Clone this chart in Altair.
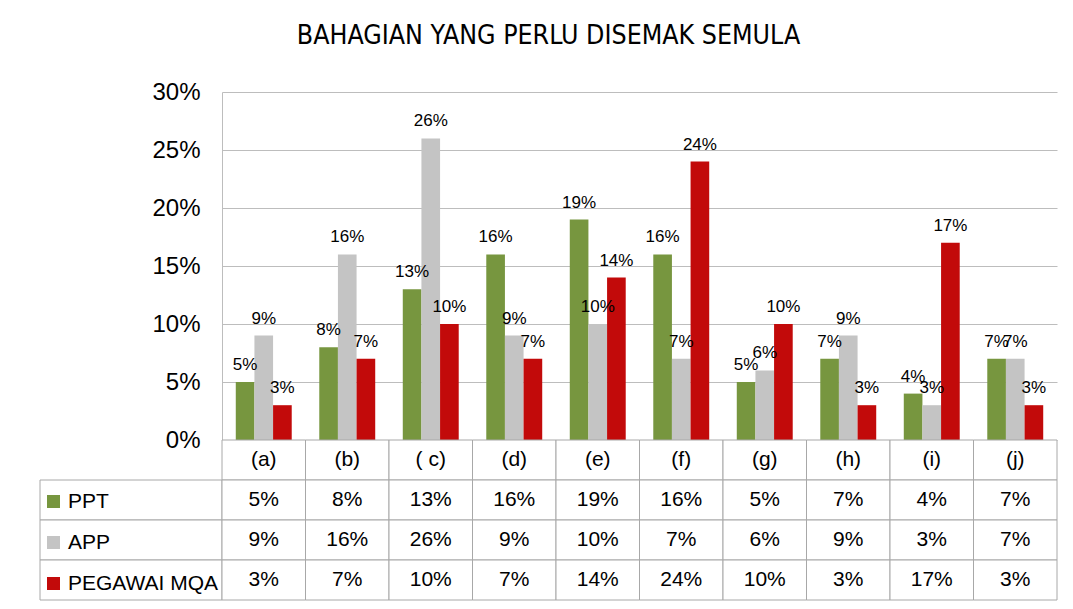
import altair as alt
import pandas as pd

# ---- data ----
categories = ["(a)", "(b)", "( c)", "(d)", "(e)", "(f)", "(g)", "(h)", "(i)", "(j)"]
series = ["PPT", "APP", "PEGAWAI MQA"]
ppt = [5, 8, 13, 16, 19, 16, 5, 7, 4, 7]
app = [9, 16, 26, 9, 10, 7, 6, 9, 3, 7]
mqa = [3, 7, 10, 7, 14, 24, 10, 3, 17, 3]
y_ticks = [0, 5, 10, 15, 20, 25, 30]
colors = ["#77963F", "#C4C4C4", "#C20A0A"]
table_rows = ["cat"] + series

FONT = "Liberation Sans"
TITLE_FONT = "DejaVu Sans Condensed, Roboto, sans-serif"
LINE = "#A8A8A8"
GRID = "#BDBDBD"

# long table for bars
recs = []
for s, vals in zip(series, [ppt, app, mqa]):
    for c, v in zip(categories, vals):
        recs.append({"cat": c, "series": s, "value": v / 100})
df = pd.DataFrame(recs)

# data table cells
cells = []
for c in categories:
    cells.append({"cat": c, "row": "cat", "label": c})
for s, vals in zip(series, [ppt, app, mqa]):
    for c, v in zip(categories, vals):
        cells.append({"cat": c, "row": s, "label": f"{v}%"})
tab_df = pd.DataFrame(cells)
hdr_df = pd.DataFrame({"row": series})

# ---- main bar chart ----
x_main = alt.X("cat:N", sort=categories,
               scale=alt.Scale(domain=categories, paddingInner=0.33, paddingOuter=0.165),
               axis=None)
xoff = alt.XOffset("series:N", sort=series,
                   scale=alt.Scale(domain=series, paddingInner=0, paddingOuter=0))
y_main = alt.Y("value:Q",
               scale=alt.Scale(domain=[0, 0.30], nice=False, zero=True),
               axis=alt.Axis(values=[t / 100 for t in y_ticks], format=".0%", title=None,
                             grid=True, gridColor=GRID, gridWidth=1,
                             domain=True, domainColor=GRID, ticks=False,
                             labelFontSize=24, labelFont=FONT, labelColor="black",
                             labelPadding=22))
color = alt.Color("series:N", sort=series,
                  scale=alt.Scale(domain=series, range=colors),
                  legend=alt.Legend(title=None, orient="none", legendX=3, legendY=399,
                                    direction="vertical", symbolType="square",
                                    symbolSize=169, symbolStrokeWidth=0,
                                    labelFontSize=21, labelFont=FONT, labelColor="black",
                                    labelLimit=400, labelOffset=4, rowPadding=19,
                                    padding=0, symbolOpacity=1))

bars = alt.Chart(df).mark_bar(opacity=1).encode(
    x=x_main, xOffset=xoff, y=y_main, color=color)
bar_labels = alt.Chart(df).mark_text(
    baseline="alphabetic", dy=-12, fontSize=17, font=FONT, color="black").encode(
    x=x_main, xOffset=xoff, y=alt.Y("value:Q"),
    text=alt.Text("value:Q", format=".0%"))
main = alt.layer(bars, bar_labels).properties(width=835, height=348)

# ---- spacer (area left of the plot, holds y-axis labels) ----
spacer = alt.Chart(pd.DataFrame({"v": [0]})).mark_point(opacity=0).properties(
    width=182, height=348)

# ---- data table ----
y_tab = alt.Y("row:N", sort=table_rows,
              scale=alt.Scale(domain=table_rows, paddingInner=0, paddingOuter=0),
              axis=None)
header = alt.Chart(hdr_df).mark_rect(fill="white", stroke=LINE, strokeWidth=1).encode(
    y=y_tab).properties(width=182, height=160)

x_tab = alt.X("cat:N", sort=categories,
              scale=alt.Scale(domain=categories, paddingInner=0, paddingOuter=0),
              axis=None)
tab_cells = alt.Chart(tab_df).mark_rect(fill="white", stroke=LINE, strokeWidth=1).encode(
    x=x_tab, y=y_tab)
tab_text = alt.Chart(tab_df).mark_text(fontSize=21, font=FONT, color="black").encode(
    x=x_tab, y=y_tab, text="label:N")
table = alt.layer(tab_cells, tab_text).properties(width=835, height=160)

chart = alt.concat(
    spacer, main, header, table, columns=2, spacing=0, bounds="flush",
    title=alt.TitleParams("BAHAGIAN YANG PERLU DISEMAK SEMULA", font=TITLE_FONT,
                          fontSize=26.5, fontWeight="normal", color="black",
                          anchor="middle", offset=31),
).properties(
    padding={"left": 31, "top": 14, "right": 5, "bottom": 5},
).configure_view(stroke=None)

chart.save("out.html", embed_options={"renderer": "svg", "actions": False})
